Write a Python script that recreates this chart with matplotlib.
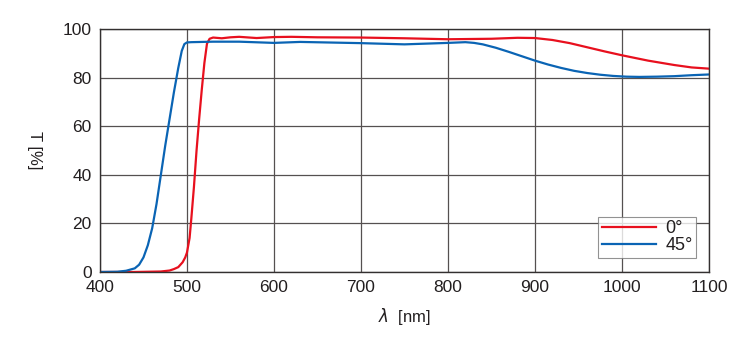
import matplotlib
matplotlib.use("Agg")
import matplotlib.pyplot as plt
import numpy as np

plt.rcParams['font.family'] = ['Liberation Sans', 'DejaVu Sans']

# 0 degree series
wl_0 = [400, 440, 470, 480, 485, 490, 495, 498, 500, 503, 505, 508, 511, 514, 517, 520, 523, 526, 530,
        540, 550, 560, 580, 600, 620, 650, 700, 750, 800, 850, 880, 900, 920, 940, 960, 980, 1000, 1030, 1060, 1080, 1100]
t_0 = [0.0, 0.0, 0.2, 0.6, 1.2, 2.0, 4.0, 6.0, 8.0, 14.0, 22.0, 35.0, 50.0, 63.0, 75.0, 86.0, 94.0, 96.0, 96.5,
       96.2, 96.6, 96.8, 96.3, 96.7, 96.8, 96.6, 96.5, 96.2, 95.8, 96.0, 96.4, 96.3, 95.5, 94.2, 92.5, 90.8, 89.2, 87.0, 85.2, 84.2, 83.7]

# 45 degree series
wl_45 = [400, 420, 430, 440, 445, 450, 455, 460, 465, 470, 475, 480, 485, 490, 494, 497, 500,
         505, 530, 560, 600, 630, 700, 750, 800, 820, 830, 840, 855, 870, 885, 900, 915, 930, 945, 960,
         975, 990, 1005, 1020, 1040, 1060, 1080, 1100]
t_45 = [0.0, 0.1, 0.5, 1.5, 3.0, 6.0, 11.0, 18.0, 28.0, 40.0, 52.0, 63.0, 74.0, 84.0, 91.0, 93.8, 94.5,
        94.6, 94.8, 94.8, 94.3, 94.7, 94.2, 93.7, 94.3, 94.6, 94.3, 93.7, 92.3, 90.6, 88.8, 87.0, 85.4, 84.0, 82.8, 81.9,
        81.2, 80.7, 80.4, 80.3, 80.4, 80.6, 81.0, 81.3]

x_ticks = [400, 500, 600, 700, 800, 900, 1000, 1100]
y_ticks = [0, 20, 40, 60, 80, 100]

fig = plt.figure(figsize=(7.5, 3.5), dpi=100)
ax = fig.add_axes([0.1333, 0.2229, 0.812, 0.6941])

ax.plot(wl_0, t_0, color='#e8101e', lw=1.6, label='0°')
ax.plot(wl_45, t_45, color='#0a64b4', lw=1.6, label='45°')

ax.set_xlim(400, 1100)
ax.set_ylim(0, 100)
ax.set_xticks(x_ticks)
ax.set_yticks(y_ticks)
ax.grid(True, color='#555050', lw=0.9)
ax.set_axisbelow(True)
for s in ax.spines.values():
    s.set_color('#333030')
    s.set_linewidth(1.0)
ax.tick_params(length=0, labelsize=12.5, colors='#231f20', pad=6)

ax.set_xlabel(r'$\lambda$  [nm]', fontsize=12, color='#231f20', labelpad=8)
ax.set_ylabel('T [%]', fontsize=12, color='#231f20', rotation=-90, labelpad=26)

leg = ax.legend(loc='lower right', bbox_to_anchor=(0.979, 0.058), fontsize=13,
                frameon=True, fancybox=False, handlelength=3.0, handletextpad=0.5,
                borderpad=0.2, labelspacing=0.0, borderaxespad=0)
leg.get_frame().set_edgecolor('#777777')
leg.get_frame().set_linewidth(0.8)
for t in leg.get_texts():
    t.set_color('#231f20')

fig.savefig('out.png', dpi=100)
